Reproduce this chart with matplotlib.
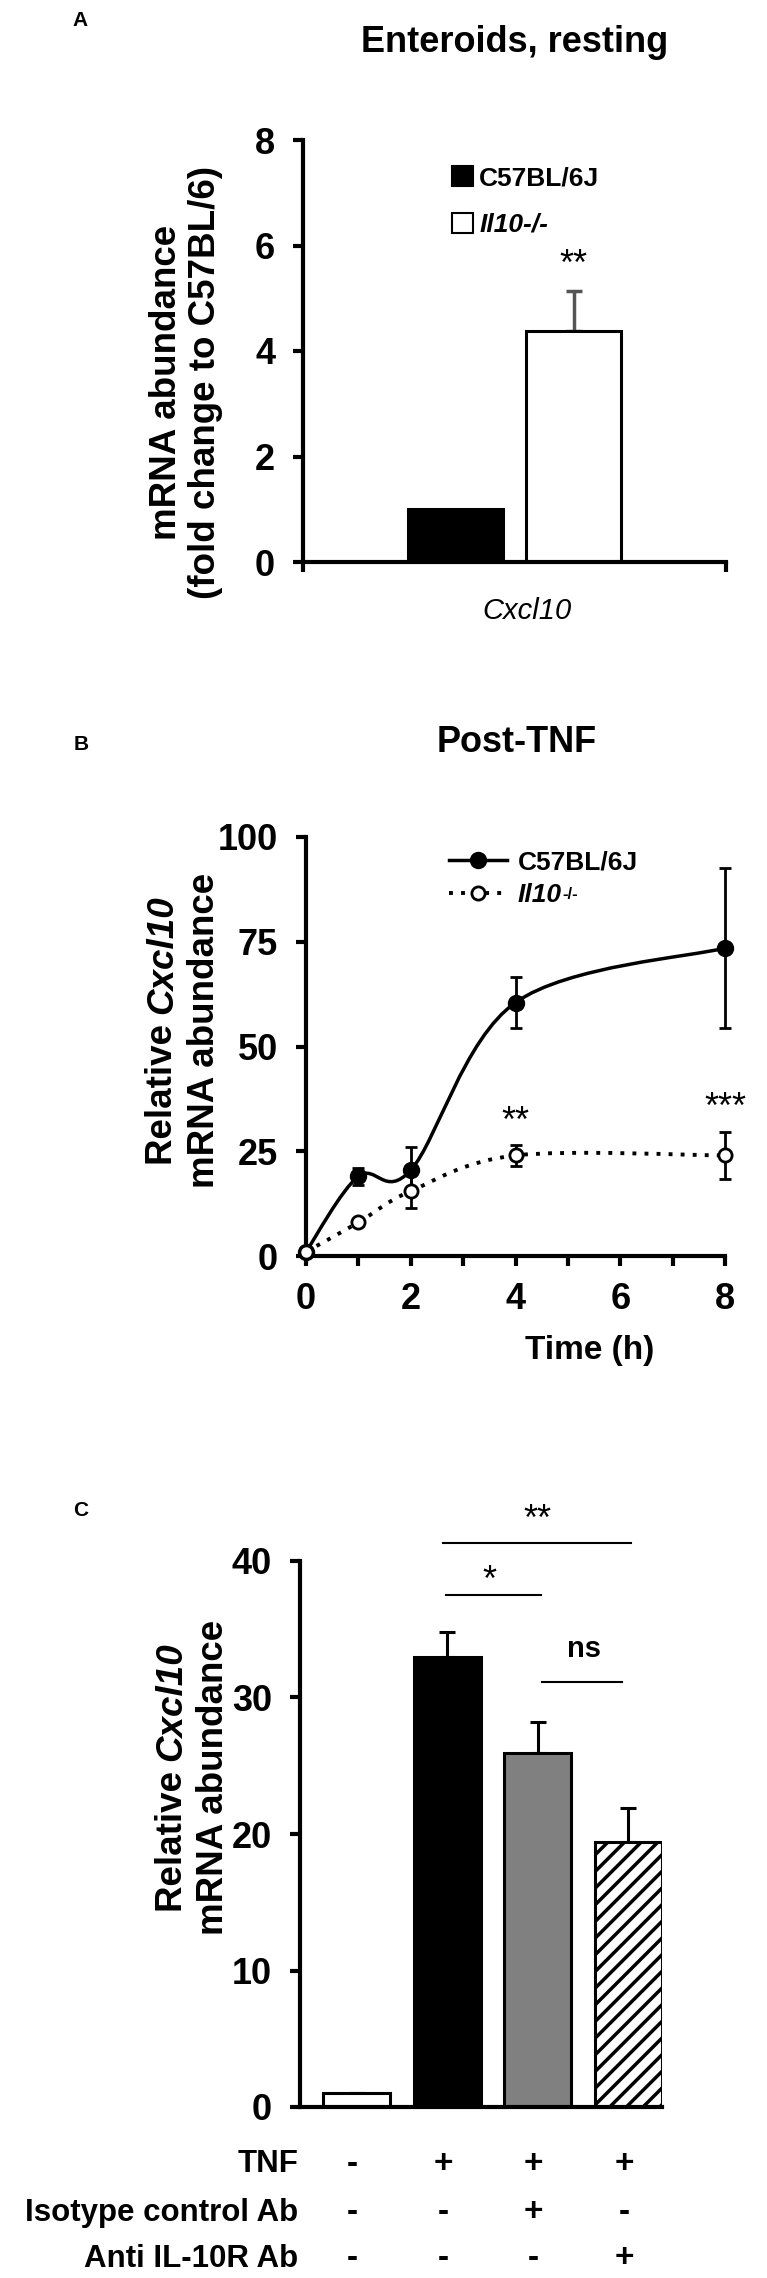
import numpy as np
import matplotlib
matplotlib.use("Agg")
import matplotlib.pyplot as plt
from matplotlib.path import Path
from matplotlib.patches import PathPatch, Patch
from matplotlib.lines import Line2D
import matplotlib.transforms as mtransforms

plt.rcParams["font.family"] = ["Liberation Sans", "DejaVu Sans"]
plt.rcParams["font.weight"] = "bold"
plt.rcParams["hatch.linewidth"] = 2.5

# ---- panel A data
a_groups = ["C57BL/6J", "Il10-/-"]
a_vals = [1.0, 4.38]
a_err = [0.0, 0.75]

# ---- panel B data
b_time = [0, 1, 2, 4, 8]
b_wt = [1.0, 19.0, 20.5, 60.5, 73.5]
b_wt_err = [0.5, 2.0, 5.5, 6.0, 19.0]
b_ko = [1.0, 8.0, 15.5, 24.0, 24.0]
b_ko_err = [0.3, 0.8, 4.0, 2.5, 5.7]

# ---- panel C data
c_vals = [1.0, 33.0, 25.9, 19.4]
c_err = [0.0, 1.8, 2.3, 2.5]
c_rows = ["TNF", "Isotype control Ab", "Anti IL-10R Ab"]
c_signs = [["-", "+", "+", "+"],
           ["-", "-", "+", "-"],
           ["-", "-", "-", "+"]]

W, H = 767, 2278
fig = plt.figure(figsize=(W / 100, H / 100), dpi=100)
renderer = fig.canvas.get_renderer()

TICK_FS = 26
YLAB_FS = 26.5


def fx(px):
    return px / W


def fy(py):
    return 1 - py / H


def style_axes(ax):
    for s in ["top", "right"]:
        ax.spines[s].set_visible(False)
    for s in ["left", "bottom"]:
        ax.spines[s].set_linewidth(3)
    ax.tick_params(axis="both", which="both", direction="out", length=7, width=3,
                   labelsize=TICK_FS)
    ax.tick_params(axis="y", pad=13)


def text_width(s, **kw):
    t = fig.text(0, 0, s, **kw)
    w = t.get_window_extent(renderer).width
    t.remove()
    return w


def vlabel_mixed(xc, yc, normal, italic, fs):
    # rotated line made of a normal part followed by an italic part
    w_all = text_width(normal + italic, fontsize=fs)
    w_n = w_all - text_width(italic, fontsize=fs)
    w_i = text_width(italic, fontsize=fs, fontstyle="italic")
    y0 = yc + (w_n + w_i) / 2  # pixel row (top-down) where the text starts
    fig.text(fx(xc), fy(y0), normal, fontsize=fs, rotation=90, ha="center", va="bottom")
    fig.text(fx(xc), fy(y0 - w_n), italic, fontsize=fs, fontstyle="italic",
             rotation=90, ha="center", va="bottom")


def smooth_path(x, y):
    # excel-like smoothed line as cubic bezier through the points
    pts = np.column_stack([x, y]).astype(float)
    n = len(pts)
    verts = [pts[0]]
    codes = [Path.MOVETO]
    for i in range(n - 1):
        p0 = pts[max(i - 1, 0)]
        p1 = pts[i]
        p2 = pts[i + 1]
        p3 = pts[min(i + 2, n - 1)]
        verts += [p1 + (p2 - p0) / 6, p2 - (p3 - p1) / 6, p2]
        codes += [Path.CURVE4] * 3
    return Path(verts, codes)


# ================= A =================
fig.text(fx(80), fy(20), "A", fontsize=15, ha="center", va="center")
fig.text(fx(515), fy(42), "Enteroids, resting", fontsize=26, ha="center", va="center")
axA = fig.add_axes([fx(303), fy(562), fx(726) - fx(303), fy(140) - fy(562)])
style_axes(axA)
axA.bar([0.36, 0.64], a_vals, width=0.225, color=["black", "white"],
        edgecolor="black", linewidth=2.2, zorder=2)
axA.errorbar([0.64], [a_vals[1]], yerr=[[0], [a_err[1]]], fmt="none",
             ecolor="#555555", elinewidth=2.5, capsize=5.5, capthick=2.5, zorder=1)
axA.set_xlim(0, 1)
axA.set_ylim(0, 8)
axA.set_yticks([0, 2, 4, 6, 8])
axA.set_xticks([0, 1])
axA.set_xticklabels(["", ""])
axA.text(0.53, -0.115, "Cxcl10", transform=axA.transAxes, fontsize=21,
         fontstyle="italic", fontweight="normal", ha="center", va="center")
axA.text(0.64, 5.45, "**", fontsize=26, fontweight="normal", ha="center", va="baseline")
legA = axA.legend([Patch(facecolor="black", edgecolor="black", linewidth=1.5),
                   Patch(facecolor="white", edgecolor="black", linewidth=1.5)],
                  ["C57BL/6J", "Il10-/-"], loc="upper left",
                  bbox_to_anchor=(0.32, 0.97), frameon=False, fontsize=19,
                  handlelength=0.8, handleheight=0.8, handletextpad=0.25,
                  labelspacing=0.85, borderpad=0)
legA.get_texts()[1].set_fontstyle("italic")
fig.text(fx(186), fy(382), "mRNA abundance\n(fold change to C57BL/6)", fontsize=YLAB_FS,
         rotation=90, ha="center", va="center", multialignment="center",
         linespacing=1.12)

# ================= B =================
fig.text(fx(81), fy(744), "B", fontsize=15, ha="center", va="center")
fig.text(fx(517), fy(742), "Post-TNF", fontsize=26, ha="center", va="center")
axB = fig.add_axes([fx(306), fy(1256), fx(725) - fx(306), fy(837) - fy(1256)])
style_axes(axB)
axB.set_xlim(0, 8)
axB.set_ylim(0, 100)
axB.set_yticks([0, 25, 50, 75, 100])
axB.set_xticks([0, 2, 4, 6, 8])
axB.set_xticks([1, 3, 5, 7], minor=True)
axB.tick_params(axis="x", pad=12)
for sp in axB.spines.values():
    sp.set_zorder(0.5)

axB.add_patch(PathPatch(smooth_path(b_time, b_wt), fill=False, lw=2.5,
                        edgecolor="black", zorder=2))
axB.add_patch(PathPatch(smooth_path(b_time, b_ko), fill=False, lw=2.8,
                        edgecolor="black", linestyle=(0, (1, 2.1)), zorder=2))
axB.errorbar(b_time, b_wt, yerr=b_wt_err, fmt="o", color="black", ms=11.5,
             elinewidth=2, capsize=4.5, capthick=2, zorder=4, clip_on=False)
axB.errorbar(b_time, b_ko, yerr=b_ko_err, fmt="o", color="black", mfc="white",
             mec="black", mew=2, ms=9.5, elinewidth=2, capsize=4.5, capthick=2,
             zorder=5, clip_on=False)
axB.text(4, 29.5, "**", fontsize=26, fontweight="normal", ha="center", va="baseline")
axB.text(8, 33, "***", fontsize=26, fontweight="normal", ha="center", va="baseline",
         clip_on=False)
legB = axB.legend([Line2D([], [], color="black", lw=2.5, marker="o", ms=11.5),
                   Line2D([], [], color="black", lw=2.8, ls=(0, (1, 2.1)), marker="o",
                          mfc="white", mec="black", mew=2, ms=9.5)],
                  ["C57BL/6J", "Il10"], loc="upper left",
                  bbox_to_anchor=(0.31, 1.0), frameon=False, fontsize=19,
                  handlelength=2.2, handletextpad=0.4, labelspacing=0.35, borderpad=0)
legB.get_texts()[1].set_fontstyle("italic")
fig.canvas.draw()
ext = legB.get_texts()[1].get_window_extent(renderer)
fig.text(fx(ext.x1 + 1), (ext.y1 - 4) / H, "-/-", fontsize=12, ha="left", va="top")

vlabel_mixed(163, 1030, "Relative ", "Cxcl10", YLAB_FS)
fig.text(fx(204), fy(1030), "mRNA abundance", fontsize=YLAB_FS, rotation=90,
         ha="center", va="center")
fig.text(fx(590), fy(1351), "Time (h)", fontsize=24, ha="center", va="center")

# ================= C =================
fig.text(fx(81), fy(1511), "C", fontsize=15, ha="center", va="center")
c_x = np.arange(len(c_vals))
c_left, c_right = -0.628, 3.37
axC = fig.add_axes([fx(300), fy(2107), fx(662) - fx(300), fy(1561) - fy(2107)])
style_axes(axC)
bars = axC.bar(c_x, c_vals, width=0.74, color=["white", "black", "#808080", "white"],
               edgecolor="black", linewidth=2.2, zorder=2)
bars[3].set_hatch("//")
axC.errorbar(c_x, c_vals, yerr=[np.zeros(len(c_err)), c_err], fmt="none",
             ecolor="black", elinewidth=2.2, capsize=5.5, capthick=2.2, zorder=1)
axC.set_xlim(c_left, c_right)
axC.set_ylim(0, 40)
axC.set_yticks([0, 10, 20, 30, 40])
axC.set_xticks([])

# significance brackets
sig = [(0.95, 3.03, 41.3, "**", 42.3, 1.99),
       (0.98, 2.03, 37.5, "*", 37.8, 1.46),
       (2.05, 2.93, 31.1, "ns", 33.0, 2.51)]
for x0, x1, yl, lab, yt, xt in sig:
    axC.plot([x0, x1], [yl, yl], color="black", lw=1.5, clip_on=False)
    if lab == "ns":
        axC.text(xt, yt, lab, fontsize=21, ha="center", va="baseline", clip_on=False)
    else:
        axC.text(xt, yt, lab, fontsize=26, fontweight="normal", ha="center",
                 va="baseline", clip_on=False)

vlabel_mixed(172, 1777, "Relative ", "Cxcl10", YLAB_FS)
fig.text(fx(213), fy(1777), "mRNA abundance", fontsize=YLAB_FS, rotation=90,
         ha="center", va="center")

# table of treatments under the bars
row_y = [2164, 2213, 2259]
trans = mtransforms.blended_transform_factory(axC.transData, fig.transFigure)
for r, label in enumerate(c_rows):
    fig.text(fx(298), fy(row_y[r]), label, fontsize=22.5, ha="right", va="center")
    for i, s in enumerate(c_signs[r]):
        axC.text(c_x[i] - 0.05, fy(row_y[r]), s, transform=trans, fontsize=24,
                 ha="center", va="center", clip_on=False)

fig.savefig("out.png", dpi=100)
